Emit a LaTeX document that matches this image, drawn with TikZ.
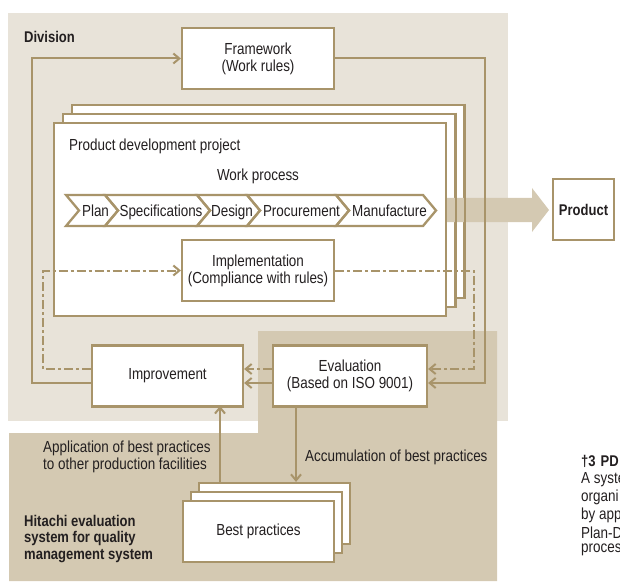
\documentclass[tikz,border=0pt]{standalone}
\usepackage{fontspec}
\setmainfont[FakeStretch=0.84]{Liberation Sans}
\usetikzlibrary{arrows.meta}
\definecolor{bgl}{RGB}{232,227,217}
\definecolor{bgd}{RGB}{212,201,178}
\definecolor{gold}{RGB}{168,148,106}
\definecolor{txt}{RGB}{35,31,32}
\newcommand\chevbox[4]{%
  \draw[chev] (#1,195) -- (#2,195) -- (#2+13,210.5) -- (#2,226) -- (#1,226) -- (#1+13,210.5) -- cycle;
  \node[lbl,anchor=base] (#4) at ({(#1+#2)/2+10},216.2) {#3};}
\begin{document}
\begin{tikzpicture}[x=1pt,y=-1pt,
  every node/.style={font=\fontsize{16}{17}\selectfont,text=txt},
  box/.style={draw=gold,line width=2.2pt,fill=white,inner sep=0pt,align=center,
              minimum width=152pt,minimum height=61pt},
  stackbox/.style={draw=gold,line width=2.2pt,fill=white,inner sep=0pt,
              minimum width=392pt,minimum height=193pt},
  bpbox/.style={draw=gold,line width=2.2pt,fill=white,inner sep=0pt,
              minimum width=151pt,minimum height=61pt},
  lbl/.style={inner sep=0pt},
  boldlbl/.style={inner sep=0pt,font=\fontsize{15.5}{16.5}\selectfont\bfseries,align=left},
  chev/.style={draw=gold,line width=2.3pt,line join=miter},
  conn/.style={draw=gold,line width=2pt,-{Straight Barb[length=6pt,width=10pt]}},
  dd/.style={draw=gold,line width=2pt,dash pattern=on 9pt off 3pt on 3pt off 3pt,
             -{Straight Barb[length=6pt,width=10pt]}}]
\useasboundingbox (0,0) rectangle (620,585);
\clip (0,0) rectangle (620,585);
% backgrounds
\fill[bgl] (8,13) rectangle (508,421);
\fill[bgd] (258,331) -- (497,331) -- (497,581) -- (9,581) -- (9,433) -- (258,433) -- cycle;
% project stack (back boxes)
\node[stackbox] (pj3) at (268,201.2) {};
\node[stackbox] (pj2) at (259,210.2) {};
% product arrow
\fill[bgd] (446,198) -- (532,198) -- (532,188) -- (549,210) -- (532,232) -- (532,222) -- (446,222) -- cycle;
\draw[gold,line width=2.2pt] (pj3.north east) -- (pj3.south east);
\draw[gold,line width=2.2pt] (pj2.north east) -- (pj2.south east);
% front project box
\node[stackbox] (pj1) at (250,219.2) {};
\node[lbl,anchor=west] (pdp) at (69,146.5) {Product development project};
\node[lbl] (wp) at (258,176.5) {Work process};
% chevrons
\chevbox{66}{105}{Plan}{c1}
\chevbox{105}{197}{Specifications}{c2}
\chevbox{197}{247}{Design}{c3}
\chevbox{247}{336}{Procurement}{c4}
\chevbox{336}{423}{Manufacture}{c5}
% main boxes
\node[box] (fw) at (258,58.5) {Framework\\(Work rules)};
\node[box] (impl) at (258,270.5) {Implementation\\(Compliance with rules)};
\node[box,minimum width=151pt] (im) at (167.5,376) {Improvement};
\node[box,minimum width=154pt] (ev) at (350,376) {Evaluation\\(Based on ISO 9001)};
\node[box,minimum width=61pt,font=\fontsize{15.5}{16.5}\selectfont\bfseries] (prod) at (583.5,209.5) {Product};
% best practices stack
\node[bpbox] (bp3) at (274.5,513.5) {};
\node[bpbox] (bp2) at (266.5,522.5) {};
\node[bpbox] (bp1) at (258.5,531.5) {Best practices};
% connectors
\coordinate (fr) at (485,383);
\coordinate (fl) at (32,383);
\coordinate (dr) at (474,369);
\coordinate (dl) at (43,369);
\coordinate (ax) at (296,406);
\coordinate (bx) at (220,406);
\draw[conn] (fw.east) -| (fr) -- (fr -| ev.east);
\draw[conn] (fl -| im.west) -- (fl) |- (fw.west);
\draw[conn] (fr -| ev.west) -- (fr -| im.east);
\draw[dd] (impl.east) -| (dr) -- (dr -| ev.east);
\draw[dd] (dr -| ev.west) -- (dr -| im.east);
\draw[dd] (dl -| im.west) -- (dl) |- (impl.west);
\draw[conn] (ax) -- (ax |- bp3.north);
\draw[conn] (bx |- bp3.north) -- (bx);
% labels
\node[boldlbl,anchor=west] (div) at (24,36.7) {Division};
\node[lbl,anchor=west,align=left] (app) at (43,456.7) {Application of best practices\\to other production facilities};
\node[lbl,anchor=west] (acc) at (305,457.5) {Accumulation of best practices};
\node[boldlbl,anchor=west] (hit) at (24,539) {Hitachi evaluation\\system for quality\\management system};
% neighbouring text fragment (cut at the page edge, as in the source)
\node[boldlbl,anchor=west] (n0) at (581,461.7) {†3\hspace{5pt}PD};
\node[lbl,anchor=west] (n1) at (581,479.5) {A syste};
\node[lbl,anchor=west] (n2) at (581,497.2) {organi};
\node[lbl,anchor=west] (n3) at (581,514.9) {by app};
\node[lbl,anchor=west] (n4) at (581,532.6) {Plan-D};
\node[lbl,anchor=west] (n5) at (581,550.3) {proces};
\end{tikzpicture}
\end{document}
